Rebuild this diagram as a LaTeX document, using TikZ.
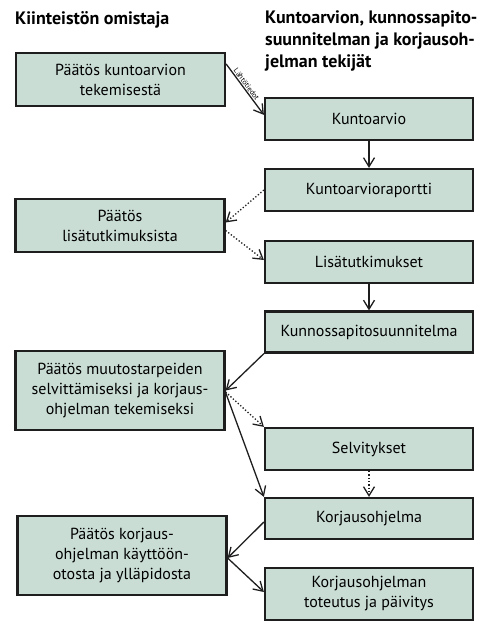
\documentclass[tikz,border=0pt]{standalone}
\usepackage{fontspec}
\setmainfont{PT Sans}
\usetikzlibrary{arrows.meta,calc}
\definecolor{boxfill}{RGB}{201,221,213}
\definecolor{boxline}{RGB}{30,30,30}
\tikzset{
  box/.style={draw=boxline, line width=2.2pt, fill=boxfill, align=center,
    font=\fontsize{16}{20}\selectfont, inner sep=0pt},
  rbox/.style={box, minimum width=208pt},
  lbox/.style={box, minimum width=209pt},
  conn/.style={line width=1.3pt, draw=boxline, -{Straight Barb[length=9pt,width=11pt,line width=1.3pt]}},
  dconn/.style={conn, dotted},
  header/.style={font=\fontsize{18}{22}\selectfont\bfseries, align=left, inner sep=0pt, anchor=base west},
}
\begin{document}
\begin{tikzpicture}[x=1pt,y=-1pt]
\useasboundingbox (0,0) rectangle (492,637);
\node[header] (h1) at (15,24) {Kiinteistön omistaja};
\node[header, anchor=north west] (h2) at (265,11) {Kuntoarvion, kunnossapito-\\suunnitelman ja korjausoh-\\jelman tekijät};

\node[lbox, minimum height=53pt] (p1) at (120.5,79.5) {Päätös kuntoarvion\\tekemisestä};
\node[rbox, minimum height=42pt] (k1) at (369,119) {Kuntoarvio};
\node[rbox, minimum height=42pt] (k2) at (369,190) {Kuntoarvioraportti};
\node[lbox, minimum height=53pt] (p2) at (120,225.5) {Päätös\\lisätutkimuksista};
\node[rbox, minimum height=42pt] (k3) at (369,262) {Lisätutkimukset};
\node[rbox, minimum height=41pt] (k4) at (369,332) {Kunnossapitosuunnitelma};
\node[lbox, minimum height=79pt] (p3) at (120,390.5) {Päätös muutostarpeiden\\selvittämiseksi ja korjaus-\\ohjelman tekemiseksi};
\node[rbox, minimum height=42pt] (k5) at (369,449) {Selvitykset};
\node[rbox, minimum height=41pt] (k6) at (369,518.5) {Korjausohjelma};
\node[lbox, minimum height=79pt] (p4) at (122,555.5) {Päätös korjaus-\\ohjelman käyttöön-\\otosta ja ylläpidosta};
\node[rbox, minimum height=52pt] (k7) at (369,594) {Korjausohjelman\\toteutus ja päivitys};

\draw[conn] ($(p1.north east)+(0,12)$) -- node[sloped, above, pos=0.45, font=\fontsize{7.5}{8}\selectfont, inner sep=1pt] {Lähtötiedot} ($(k1.north west)+(0,18)$);
\draw[conn] (k1.south) -- (k2.north);
\draw[dconn] (k2.west) -- ($(p2.east)+(0,-3)$);
\draw[dconn] ($(p2.east)+(0,5)$) -- ($(k3.west)+(0,-2)$);
\draw[conn] (k3.south) -- (k4.north);
\draw[conn] (k4.south west) -- (p3.east);
\draw[dconn] ($(p3.east)+(0,1.5)$) -- (k5.north west);
\draw[conn] ($(p3.east)+(0,2)$) -- (k6.north west);
\draw[dconn] (k5.south) -- (k6.north);
\draw[conn] ($(k6.west)+(0,3.5)$) -- ($(p4.east)+(0,2.5)$);
\draw[conn] ($(p4.east)+(0,2.5)$) -- ($(k7.west)+(0,-2)$);
\end{tikzpicture}
\end{document}
